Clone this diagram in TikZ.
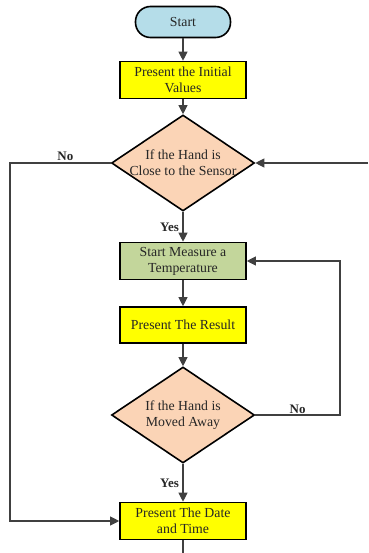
\documentclass[tikz,border=0pt]{standalone}
\usepackage{fontspec}
\setmainfont{Liberation Serif}
\usepackage{tikz}
\usetikzlibrary{shapes.geometric, arrows.meta}

\definecolor{startblue}{HTML}{B5DDE9}
\definecolor{boxyellow}{HTML}{FFFF00}
\definecolor{boxgreen}{HTML}{C3D69B}
\definecolor{decpeach}{HTML}{FBD4B6}
\definecolor{txtgray}{HTML}{262626}

\tikzset{
  boxtext/.style={font=\fontsize{13.8}{16}\selectfont, text=txtgray, align=center},
  startstop/.style={boxtext, draw=black, line width=1.6pt, fill=startblue,
    rounded corners=15pt, minimum width=95pt, minimum height=31pt},
  process/.style={boxtext, draw=black, line width=1.6pt, fill=boxyellow,
    minimum width=126pt, minimum height=37pt, inner sep=1pt},
  decision/.style={diamond, draw=black, line width=1.6pt, fill=decpeach,
    minimum width=143pt, minimum height=96pt, inner sep=0pt},
  flow/.style={draw=black!75, line width=1.1pt, -{Triangle[length=9pt,width=9pt]}},
  branch/.style={font=\fontsize{13}{15}\selectfont\bfseries, text=txtgray, inner sep=1.5pt}
}

\begin{document}
\begin{tikzpicture}[x=1pt, y=-1pt]
      \useasboundingbox (0,0) rectangle (368,553);
      % blocks
      \node[startstop] (start) at (183,22) {Start};
      \node[process] (init) at (183,80) {Present the Initial\\Values};
      \node[decision, label={[boxtext]center:If the Hand is\\Close to the Sensor}] (near) at (183,163) {};
      \node[process, fill=boxgreen] (measure) at (183,261) {Start Measure a\\Temperature};
      \node[process, minimum height=36pt] (result) at (183,325) {Present The Result};
      \node[decision, label={[boxtext]center:If the Hand is\\Moved Away}] (away) at (183,415) {};
      \node[process] (date) at (183,521) {Present The Date\\and Time};
      % loose ends and loop columns
      \coordinate (leftcol) at (10,0);
      \coordinate (rightcol) at (340,0);
      \coordinate (comein) at (368,163);
      \coordinate (goout) at (183,553);
      % connectors
      \draw[flow] (start) -- (init);
      \draw[flow] (init) -- (near);
      \draw[flow] (near) -- node[branch, left, xshift=-2pt, yshift=-1pt] {Yes} (measure);
      \draw[flow] (measure) -- (result);
      \draw[flow] (result) -- (away);
      \draw[flow] (away) -- node[branch, left, xshift=-2pt, yshift=-1pt] {Yes} (date);
      \draw[flow] (near.west) -- node[branch, above, pos=0.45] {No} (near.west -| leftcol) |- (date.west);
      \draw[flow] (away.east) -- node[branch, above, inner sep=0.5pt] {No} (away.east -| rightcol) |- (measure.east);
      \draw[flow] (comein) -- (near.east);
      \draw[draw=black!75, line width=1.1pt] (date.south) -- (goout);
    \end{tikzpicture}
\end{document}
